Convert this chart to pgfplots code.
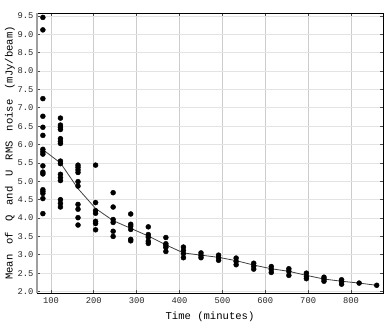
\documentclass[border=0pt]{standalone}
\usepackage{pgfplots}
\pgfplotsset{compat=1.18}
\usepackage{pgfplotstable}
\usepackage{fontspec}
\setmonofont{Liberation Mono}
\newcommand\ys{\hspace{10bp}}

% noise measurements, one row per point
\pgfplotstableread{
t    noise
81   9.46
81   9.12
81   7.25
81   6.77
81   6.47
81   6.25
81   5.87
81   5.80
81   5.74
81   5.42
81   5.25
81   5.20
81   4.77
81   4.72
81   4.67
81   4.53
81   4.12
122  6.72
122  6.53
122  6.47
122  6.41
122  6.16
122  6.09
122  6.03
122  5.55
122  5.48
122  5.19
122  5.10
122  5.02
122  4.50
122  4.40
122  4.30
163  5.44
163  5.38
163  5.31
163  5.24
163  4.99
163  4.87
163  4.37
163  4.24
163  4.01
163  3.81
204  5.44
204  4.42
204  4.20
204  4.13
204  3.91
204  3.85
204  3.68
245  4.69
245  4.30
245  3.96
245  3.88
245  3.64
245  3.50
286  4.11
286  3.83
286  3.78
286  3.69
286  3.42
286  3.38
327  3.76
327  3.55
327  3.48
327  3.37
327  3.31
368  3.47
368  3.30
368  3.25
368  3.20
368  3.09
409  3.21
409  3.12
409  3.03
409  2.92
450  3.05
450  2.98
450  2.92
491  2.99
491  2.92
491  2.85
532  2.91
532  2.82
532  2.73
573  2.77
573  2.69
573  2.61
614  2.68
614  2.60
614  2.52
655  2.62
655  2.55
655  2.44
696  2.50
696  2.41
696  2.35
737  2.39
737  2.34
737  2.28
778  2.32
778  2.26
778  2.20
819  2.23
860  2.17
}\noisedata

% fitted trend
\pgfplotstableread{
t    fit
81   5.86
122  5.50
163  4.80
204  4.26
245  3.93
286  3.72
327  3.51
368  3.27
409  3.05
450  2.99
491  2.93
532  2.84
573  2.72
614  2.62
655  2.55
696  2.44
737  2.34
778  2.28
819  2.23
860  2.17
}\fitdata

\begin{document}
\begin{tikzpicture}
\begin{axis}[
  scale only axis,
  width=346bp, height=280bp,
  xmin=67.3, xmax=874.7,
  ymin=1.96, ymax=9.58,
  xtick={100,200,...,800},
  ytick={2,2.5,...,9.5},
  yticklabel style={/pgf/number format/.cd, fixed, fixed zerofill, precision=1},
  /pgf/number format/assume math mode=true,
  ticklabel style={font=\fontsize{8.8}{9}\ttfamily, text=black!85},
  xticklabel style={yshift=-1bp},
  tick align=inside,
  major tick length=3bp,
  tick style={black!70, line width=0.8bp},
  grid=major,
  major x grid style={gray!40, line width=0.8bp},
  major y grid style={gray!22, line width=0.8bp},
  axis line style={black, line width=0.9bp},
  xlabel={Time (minutes)},
  ylabel={Mean\ys of\ys Q\ys and\ys U\ys RMS\ys noise\ys (mJy/beam)},
  xlabel style={font=\fontsize{10.6}{11}\ttfamily, yshift=-2bp},
  ylabel style={font=\fontsize{10.6}{11}\ttfamily, yshift=-4bp},
  clip=false,
]
\addplot[black!75, line width=0.8bp, no marks] table[x=t, y=fit] {\fitdata};
\addplot[only marks, mark=*, mark size=2.5bp, black, mark options={fill=black}]
  table[x=t, y=noise] {\noisedata};
\draw[gray!75, line width=1.8bp] (rel axis cs:0,0) -- (rel axis cs:0,1);
\coordinate (bl) at (rel axis cs:0,0);
\coordinate (tr) at (rel axis cs:1,1);
\end{axis}
\pgfresetboundingbox
\path ([xshift=-37bp,yshift=-35bp]bl) rectangle ([xshift=7bp,yshift=13bp]tr);
\end{tikzpicture}
\end{document}
